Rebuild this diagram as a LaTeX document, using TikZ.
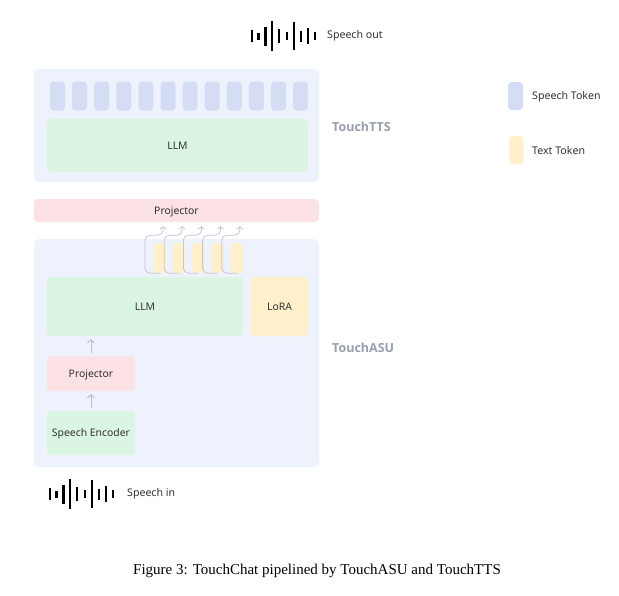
\documentclass[tikz,border=0pt]{standalone}
\usepackage{fontspec}
\setmainfont{Noto Sans}
\newfontfamily\tagfont{Open Sans}
\newfontfamily\capfont{Liberation Serif}
\usepackage{tikz}
\usetikzlibrary{positioning,arrows.meta}
\definecolor{panelbg}{HTML}{EEF2FC}
\definecolor{stokfill}{HTML}{D5DDF5}
\definecolor{llmfill}{HTML}{DBF5E3}
\definecolor{projfill}{HTML}{FDE2E5}
\definecolor{ttokfill}{HTML}{FFEFCB}
\definecolor{tagtext}{HTML}{979EAD}
\definecolor{bodytext}{HTML}{333333}
\definecolor{arrowgray}{HTML}{B9BDC8}
\tikzset{
  panel/.style={rectangle, fill=panelbg, rounded corners=5pt, inner sep=0pt},
  box/.style={rectangle, rounded corners=4pt, inner sep=0pt, text=bodytext, text height=7.4pt, text depth=0pt, font=\fontsize{10.4}{12}\selectfont},
  llmbox/.style={box, fill=llmfill},
  projbox/.style={box, fill=projfill},
  lorabox/.style={box, fill=ttokfill},
  stok/.style={rectangle, rounded corners=3.5pt, fill=stokfill, minimum width=15pt, minimum height=29pt, inner sep=0pt},
  ttok/.style={rectangle, rounded corners=3.5pt, fill=ttokfill, minimum width=12pt, minimum height=30pt, inner sep=0pt},
  tag/.style={font=\tagfont\bfseries\fontsize{12.5}{14}\selectfont, text=tagtext, anchor=west, inner sep=0pt},
  lbl/.style={font=\fontsize{10.6}{12}\selectfont, text=bodytext, anchor=west, inner sep=0pt},
  uparrow/.style={draw=arrowgray, line width=1pt, -{Straight Barb[length=3pt,width=7pt]}},
  loopback/.style={draw=arrowgray!85, line width=0.8pt, rounded corners=5pt, -{Straight Barb[length=2.5pt,width=6pt]}},
  bar/.style={draw=black, line width=2.5pt},
}

\begin{document}
\begin{tikzpicture}[x=1pt, y=-1pt]
  \useasboundingbox[fill=white] (0,0) rectangle (619,595);

  % speech out
  \coordinate (wout) at (252,36);
  \foreach \dx/\h in {0/6, 6.5/3.5, 13.5/9.5, 20/15, 27/7, 35/4, 42/14, 49/5.5, 56/8, 63/4}
    \draw[bar] (wout) ++(\dx,-\h) -- ++(0,2*\h);
  \node[lbl] (speechout) at (327,36) {Speech out};

  % TouchTTS
  \node[panel, minimum width=285pt, minimum height=113pt] (tts) at (176.5,125.5) {};
  \foreach \i in {0,...,11}
    \node[stok] (st\i) at (57.5+22.1*\i,96) {};
  \node[llmbox, minimum width=261pt, minimum height=53pt] (llmtop) at (177.5,145.5) {LLM};
  \node[tag] (ttslabel) at (332,127) {TouchTTS};

  % projector between the two
  \node[projbox, minimum width=285pt, minimum height=23pt] (projmid) at (176.5,210.5) {Projector};

  % TouchASU
  \node[panel, minimum width=285pt, minimum height=228pt] (asu) at (176.5,353) {};
  \node[llmbox, minimum width=196pt, minimum height=59pt] (llmbot) at (145,306.5) {LLM};
  \node[lorabox, minimum width=57pt, minimum height=59pt] (lora) at (279.5,306.5) {LoRA};
  \node[projbox, minimum width=88pt, minimum height=35pt] (proj) at (91,373.5) {Projector};
  \node[llmbox, minimum width=88pt, minimum height=44pt] (enc) at (91,433) {Speech Encoder};
  \node[tag] (asulabel) at (332,348) {TouchASU};

  \draw[uparrow] ([yshift=3pt]enc.north) -- ([yshift=-3pt]proj.south);
  \draw[uparrow] ([yshift=3pt]proj.north) -- ([yshift=-3pt]proj.north |- llmbot.south);

  % text tokens fed back
  \foreach \i in {0,...,4}
    \node[ttok] (tt\i) at (160+19.2*\i,258) {};
  \foreach \i in {0,...,4}
    \draw[loopback] (tt\i.south) -- ++(-15,0) -- ++(0,-38) -- ++(18,0) -- ++(0,-9);

  % speech in
  \coordinate (win) at (50,494);
  \foreach \dx/\h in {0/6, 6.5/3.5, 13.5/9.5, 20/15, 27/7, 35/4, 42/14, 49/5.5, 56/8, 63/4}
    \draw[bar] (win) ++(\dx,-\h) -- ++(0,2*\h);
  \node[lbl] (speechin) at (127,494) {Speech in};

  % legend
  \node[stok, minimum height=28pt] (legs) at (515.5,96) {};
  \node[lbl] (legstext) at (532,97) {Speech Token};
  \node[ttok, minimum width=14pt, minimum height=28pt] (legt) at (516.5,150) {};
  \node[lbl] (legttext) at (532,151) {Text Token};

  % caption
  \node[font=\capfont\fontsize{15}{17}\selectfont, inner sep=0pt] (caption) at (317,571)
    {Figure 3: TouchChat pipelined by TouchASU and TouchTTS};
\end{tikzpicture}
\end{document}
